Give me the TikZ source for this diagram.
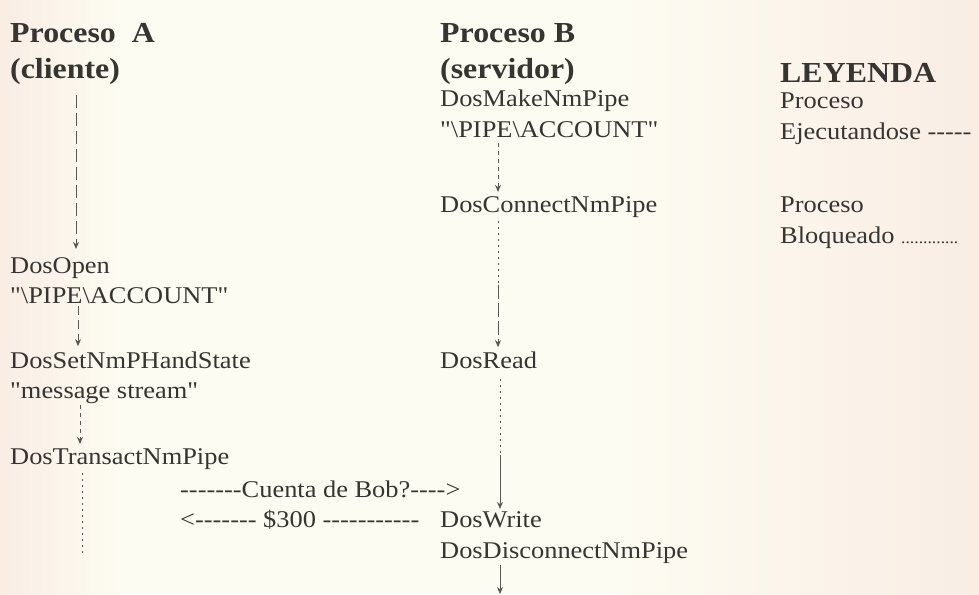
\documentclass[tikz,border=0pt]{standalone}
\usepackage{fontspec}
\setmainfont[Ligatures=TeXOff,FakeStretch=1.1]{Liberation Serif}
\usetikzlibrary{arrows.meta}
\definecolor{ink}{RGB}{55,53,50}
\definecolor{linec}{RGB}{90,88,84}
\definecolor{bgmid}{RGB}{253,252,242}
\definecolor{bgpink}{RGB}{249,237,228}
\begin{document}
\begin{tikzpicture}[x=1pt,y=-1pt,
  txt/.style={anchor=base west,inner sep=0pt,text=ink,font=\fontsize{24}{29}\selectfont},
  head/.style={anchor=base west,inner sep=0pt,text=ink,font=\fontsize{29}{33}\selectfont\bfseries},
  run/.style={draw=linec,line width=0.9pt,dash pattern=on 9pt off 5pt},
  blk/.style={draw=linec,line width=0.9pt,dash pattern=on 2pt off 4pt},
  sol/.style={draw=linec,line width=0.9pt},
  tip/.style={-{Stealth[length=7pt,width=6pt]}}]
\useasboundingbox (0,0) rectangle (979,594);
\fill[bgmid] (0,0) rectangle (979,594);
\shade[left color=bgpink,right color=bgmid] (0,0) rectangle (120,594);
\shade[left color=bgmid,right color=bgpink] (620,0) rectangle (979,594);
\begin{scope}
\clip (0,0) rectangle (979,594);
% column coordinates
\coordinate (colA1) at (76,0);
\coordinate (colA2) at (78,0);
\coordinate (colA3) at (80,0);
\coordinate (colA4) at (82,0);
\coordinate (colB) at (498,0);
\coordinate (colB3) at (500,0);
% headings
\node[head] (pa) at (10,43) {Proceso\ \ A};
\node[head] (cliente) at (10,78) {(cliente)};
\node[head] (pb) at (440,43) {Proceso B};
\node[head] (srv) at (440,78) {(servidor)};
\node[head] (ley) at (780,82) {LEYENDA};
% legend
\node[txt] (lp1) at (780,108) {Proceso};
\node[txt] (lej) at (780,139) {Ejecutandose -----};
\node[txt] (lp2) at (780,212) {Proceso};
\node[txt] (lbl) at (780,243) {Bloqueado \fontsize{16}{16}\selectfont .............};
% process A
\node[txt] (op) at (10,273) {DosOpen};
\node[txt] (opp) at (10,303) {"\textbackslash PIPE\textbackslash ACCOUNT"};
\node[txt] (st) at (10,368) {DosSetNmPHandState};
\node[txt] (stm) at (10,398) {"message stream"};
\node[txt] (tr) at (10,464) {DosTransactNmPipe};
\node[txt] (q) at (180,497) {-------Cuenta de Bob?---->};
\node[txt] (ans) at (180,527) {<------- \$300 -----------};
% process B
\node[txt] (mk) at (440,106) {DosMakeNmPipe};
\node[txt] (mkp) at (440,137) {"\textbackslash PIPE\textbackslash ACCOUNT"};
\node[txt] (cn) at (440,212) {DosConnectNmPipe};
\node[txt] (rd) at (440,368) {DosRead};
\node[txt] (wr) at (440,527) {DosWrite};
\node[txt] (dc) at (440,558) {DosDisconnectNmPipe};
% connectors process A
\draw[run,tip,dash pattern=on 13pt off 5pt,shorten <=11pt,shorten >=8pt] (cliente.south -| colA1) -- (op.north -| colA1);
\draw[run,tip,shorten <=3pt,shorten >=5pt] (opp.south -| colA2) -- (st.north -| colA2);
\draw[run,tip,dash pattern=on 4pt off 4pt,shorten <=2pt,shorten >=4pt] (stm.south -| colA3) -- (tr.north -| colA3);
\coordinate (a4e) at (82,556);
\draw[blk,shorten <=4pt] (tr.south -| colA4) -- (a4e);
% connectors process B
\draw[run,tip,dash pattern=on 4pt off 4pt,shorten <=6pt,shorten >=4pt] (mkp.south -| colB) -- (cn.north -| colB);
\coordinate (b2m) at (498,285);
\draw[blk,shorten <=4pt] (cn.south -| colB) -- (b2m);
\draw[run,tip,dash pattern=on 14pt off 4pt,shorten >=4pt] (b2m) -- (rd.north -| colB);
\coordinate (b3m) at (500,455);
\draw[blk,shorten <=11pt] (rd.south -| colB3) -- (b3m);
\draw[sol,tip,shorten >=2pt] (b3m) -- (wr.north -| colB3);
\coordinate (b4e) at (500,594);
\draw[sol,tip,shorten <=2pt] (dc.south -| colB3) -- (b4e);
\end{scope}
\end{tikzpicture}
\end{document}
